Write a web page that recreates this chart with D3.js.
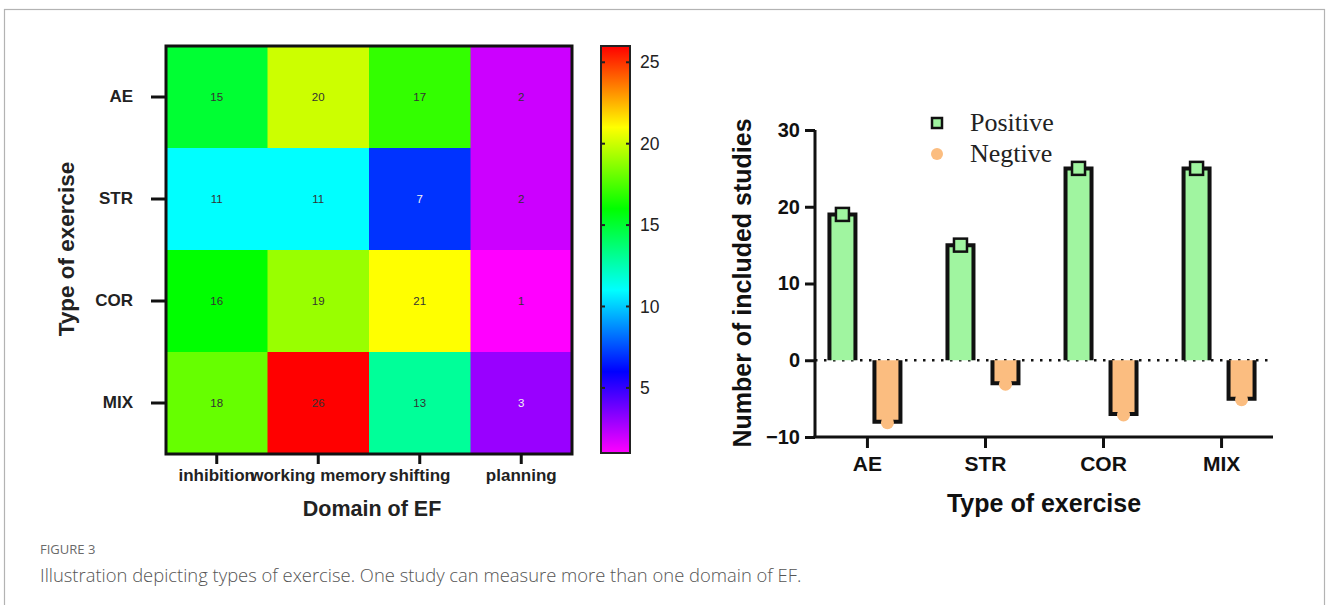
<!DOCTYPE html>
<html lang="en">
<head>
    <meta charset="utf-8">
    <title>Figure 3 - types of exercise</title>
    <script src="https://d3js.org/d3.v7.min.js"></script>
    <style>
        body { margin: 0; background: #fff; }
        text { font-family: Arial, "Liberation Sans", sans-serif; }
        .bold { font-weight: bold; }
    </style>
</head>
<body>
<script>
    // ---- data ----
    const exercises = ["AE", "STR", "COR", "MIX"];
    const domains   = ["inhibition", "working memory", "shifting", "planning"];
    // rows = exercises, cols = domains
    const heatValues = [
        [15, 20, 17, 2],
        [11, 11, 7, 2],
        [16, 19, 21, 1],
        [18, 26, 13, 3]
    ];
    const colorTicks = [5, 10, 15, 20, 25];
    const positive = [19, 15, 25, 25];
    const negative = [-8, -3, -7, -5];
    const barTicks = [-10, 0, 10, 20, 30];

    const W = 1328, H = 605;
    const svg = d3.select("body").append("svg")
        .attr("width", W).attr("height", H);

    // outer frame
    svg.append("rect")
        .attr("x", 4.5).attr("y", 9.5)
        .attr("width", 1320).attr("height", 620)
        .attr("fill", "none").attr("stroke", "#b3b3b3").attr("stroke-width", 1.2);

    // ===== HEATMAP =====
    const hm = { left: 166, right: 572, top: 46, bottom: 454 };
    const xH = d3.scaleBand().domain(domains).range([hm.left, hm.right]);
    const yH = d3.scaleBand().domain(exercises).range([hm.top, hm.bottom]);

    // rainbow: 1 -> magenta, 26 -> red
    const hue = d3.scaleLinear().domain([1, 26]).range([300, 0]);
    const colorOf = v => d3.hsl(hue(v), 1, 0.5).toString();

    const cells = [];
    exercises.forEach((e, i) => domains.forEach((d, j) => cells.push({ e, d, v: heatValues[i][j] })));

    const gH = svg.append("g");
    gH.selectAll("rect.cell").data(cells).enter().append("rect")
        .attr("class", "cell")
        .attr("x", c => xH(c.d)).attr("y", c => yH(c.e))
        .attr("width", xH.bandwidth() + 0.5).attr("height", yH.bandwidth() + 0.5)
        .attr("fill", c => colorOf(c.v));

    gH.selectAll("text.val").data(cells).enter().append("text")
        .attr("class", "val")
        .attr("x", c => xH(c.d) + xH.bandwidth() / 2)
        .attr("y", c => yH(c.e) + yH.bandwidth() / 2)
        .attr("dy", "0.35em")
        .attr("text-anchor", "middle")
        .attr("font-size", 11.5)
        .attr("fill", c => (hue(c.v) > 200 && hue(c.v) < 285) ? "#f2f2f2" : "#333")
        .text(c => c.v);

    gH.append("rect")
        .attr("x", hm.left).attr("y", hm.top)
        .attr("width", hm.right - hm.left).attr("height", hm.bottom - hm.top)
        .attr("fill", "none").attr("stroke", "#111").attr("stroke-width", 3);

    // y axis of heatmap
    const axL = gH.append("g")
        .attr("transform", `translate(${hm.left - 1},0)`)
        .call(d3.axisLeft(yH).tickSize(14).tickPadding(18));
    axL.select(".domain").remove();
    axL.selectAll("line").attr("stroke", "#111").attr("stroke-width", 3);
    axL.selectAll("text").attr("class", "bold").attr("font-size", 17).attr("fill", "#222");

    // x axis of heatmap
    const axB = gH.append("g")
        .attr("transform", `translate(0,${hm.bottom + 1})`)
        .call(d3.axisBottom(xH).tickSize(9).tickPadding(5));
    axB.select(".domain").remove();
    axB.selectAll("line").attr("stroke", "#111").attr("stroke-width", 3);
    axB.selectAll("text").attr("class", "bold").attr("font-size", 17).attr("fill", "#222");

    gH.append("text").attr("class", "bold")
        .attr("transform", "translate(74,249) rotate(-90)")
        .attr("text-anchor", "middle").attr("font-size", 22.5).attr("fill", "#222")
        .text("Type of exercise");
    gH.append("text").attr("class", "bold")
        .attr("x", 372).attr("y", 516)
        .attr("text-anchor", "middle").attr("font-size", 21.5).attr("fill", "#222")
        .text("Domain of EF");

    // colour bar
    const cb = { x: 601, w: 29, top: 46, bottom: 453 };
    const yC = d3.scaleLinear().domain([1, 26]).range([cb.bottom, cb.top]);
    const defs = svg.append("defs");
    const grad = defs.append("linearGradient").attr("id", "rainbow")
        .attr("x1", 0).attr("y1", 1).attr("x2", 0).attr("y2", 0);
    d3.range(0, 26).forEach(k => {
        const v = 1 + k;
        grad.append("stop").attr("offset", (v - 1) / 25).attr("stop-color", colorOf(v));
    });
    svg.append("rect")
        .attr("x", cb.x).attr("y", cb.top)
        .attr("width", cb.w).attr("height", cb.bottom - cb.top)
        .attr("fill", "url(#rainbow)").attr("stroke", "#222").attr("stroke-width", 2);
    const axC = svg.append("g")
        .attr("transform", `translate(${cb.x + cb.w},0)`)
        .call(d3.axisRight(yC).tickValues(colorTicks).tickSize(0).tickPadding(10));
    axC.select(".domain").remove();
    axC.selectAll("text").attr("font-size", 17.5).attr("fill", "#222");
    svg.selectAll("line.cbt").data(colorTicks).enter().append("line")
        .attr("class", "cbt")
        .attr("x1", cb.x - 1).attr("x2", cb.x + 4)
        .attr("y1", d => yC(d)).attr("y2", d => yC(d))
        .attr("stroke", "#222").attr("stroke-width", 2);
    svg.selectAll("line.cbt2").data(colorTicks).enter().append("line")
        .attr("class", "cbt2")
        .attr("x1", cb.x + cb.w - 4).attr("x2", cb.x + cb.w + 1)
        .attr("y1", d => yC(d)).attr("y2", d => yC(d))
        .attr("stroke", "#222").attr("stroke-width", 2);

    // ===== BAR CHART =====
    const bc = { left: 815, right: 1273, zero: 360 };
    const xB = d3.scalePoint().domain(exercises).range([bc.left, bc.right]).padding(0.44);
    const yB = d3.scaleLinear().domain([-10, 30]).range([437, 130]);
    const barW = 26, gap = 19;
    const green = "#a0f5a0", orange = "#fbbd80";
    const gB = svg.append("g");

    // dotted zero line
    gB.append("line")
        .attr("x1", bc.left).attr("x2", bc.right - 4)
        .attr("y1", yB(0)).attr("y2", yB(0))
        .attr("stroke", "#111").attr("stroke-width", 2.5)
        .attr("stroke-dasharray", "2.5,6.5");

    // positive bars: open at bottom
    gB.selectAll("rect.pos").data(exercises).enter().append("rect")
        .attr("class", "pos")
        .attr("x", (e) => xB(e) - gap / 2 - barW - 2)
        .attr("y", (e, i) => yB(positive[i]))
        .attr("width", barW)
        .attr("height", (e, i) => yB(0) - yB(positive[i]))
        .attr("fill", green);
    gB.selectAll("path.pos").data(exercises).enter().append("path")
        .attr("class", "pos")
        .attr("d", (e, i) => {
            const x0 = xB(e) - gap / 2 - barW - 2, x1 = x0 + barW;
            const yt = yB(positive[i]), y0 = yB(0);
            return `M${x0},${y0}V${yt}H${x1}V${y0}`;
        })
        .attr("fill", "none").attr("stroke", "#111").attr("stroke-width", 4);

    gB.selectAll("rect.neg").data(exercises).enter().append("rect")
        .attr("class", "neg")
        .attr("x", (e) => xB(e) + gap / 2 - 2)
        .attr("y", yB(0))
        .attr("width", barW)
        .attr("height", (e, i) => yB(negative[i]) - yB(0))
        .attr("fill", orange);
    gB.selectAll("path.neg").data(exercises).enter().append("path")
        .attr("class", "neg")
        .attr("d", (e, i) => {
            const x0 = xB(e) + gap / 2 - 2, x1 = x0 + barW;
            const yb = yB(negative[i]), y0 = yB(0);
            return `M${x0},${y0}V${yb}H${x1}V${y0}`;
        })
        .attr("fill", "none").attr("stroke", "#111").attr("stroke-width", 4);

    // markers
    gB.selectAll("rect.sq").data(exercises).enter().append("rect")
        .attr("class", "sq")
        .attr("x", e => xB(e) - gap / 2 - barW / 2 - 2 - 6.5)
        .attr("y", (e, i) => yB(positive[i]) - 6.5)
        .attr("width", 13).attr("height", 13)
        .attr("fill", green).attr("stroke", "#111").attr("stroke-width", 2.5);
    gB.selectAll("circle.dot").data(exercises).enter().append("circle")
        .attr("class", "dot")
        .attr("cx", e => xB(e) + gap / 2 + barW / 2 - 2)
        .attr("cy", (e, i) => yB(negative[i]) + 1)
        .attr("r", 6.5)
        .attr("fill", orange);

    // axes
    const axY = gB.append("g")
        .attr("transform", `translate(${bc.left},0)`)
        .call(d3.axisLeft(yB).tickValues(barTicks).tickSize(10).tickPadding(5).tickFormat(d3.format("d")));
    axY.select(".domain").attr("stroke", "#111").attr("stroke-width", 3).attr("d", `M0,${yB(30)}V${yB(-10)}`);
    axY.selectAll("line").attr("stroke", "#111").attr("stroke-width", 3);
    axY.selectAll("text").attr("class", "bold").attr("font-size", 20).attr("fill", "#111");

    const axX = gB.append("g")
        .attr("transform", `translate(0,${yB(-10)})`)
        .call(d3.axisBottom(xB).tickSize(11).tickPadding(8));
    axX.select(".domain").attr("stroke", "#111").attr("stroke-width", 3)
        .attr("d", `M${bc.left - 1.5},0H${bc.right}`);
    axX.selectAll("line").attr("stroke", "#111").attr("stroke-width", 3);
    axX.selectAll("text").attr("class", "bold").attr("font-size", 21).attr("fill", "#111");

    gB.append("text").attr("class", "bold")
        .attr("transform", "translate(751,283) rotate(-90)")
        .attr("text-anchor", "middle").attr("font-size", 25).attr("fill", "#111")
        .text("Number of included studies");
    gB.append("text").attr("class", "bold")
        .attr("x", 1044).attr("y", 512)
        .attr("text-anchor", "middle").attr("font-size", 25).attr("fill", "#111")
        .text("Type of exercise");

    // legend
    const legend = gB.append("g");
    legend.append("rect")
        .attr("x", 932).attr("y", 118).attr("width", 10).attr("height", 10)
        .attr("fill", green).attr("stroke", "#111").attr("stroke-width", 2.5);
    legend.append("circle")
        .attr("cx", 937).attr("cy", 154).attr("r", 6).attr("fill", orange);
    legend.selectAll("text").data(["Positive", "Negtive"]).enter().append("text")
        .attr("x", 970).attr("y", (d, i) => 131 + i * 31)
        .attr("font-size", 26).attr("fill", "#222")
        .style("font-family", "'Liberation Serif', 'Times New Roman', serif")
        .text(d => d);

    // caption
    svg.append("text")
        .attr("x", 40).attr("y", 554)
        .style("font-family", "'Open Sans', Lato, sans-serif")
        .attr("font-size", 13).attr("fill", "#6a6a6a")
        .text("FIGURE 3");
    svg.append("text")
        .attr("x", 40).attr("y", 582)
        .style("font-family", "'Open Sans', Lato, sans-serif")
        .style("font-weight", 300)
        .attr("font-size", 18.4).attr("fill", "#555")
        .text("Illustration depicting types of exercise. One study can measure more than one domain of EF.");
</script>
</body>
</html>
